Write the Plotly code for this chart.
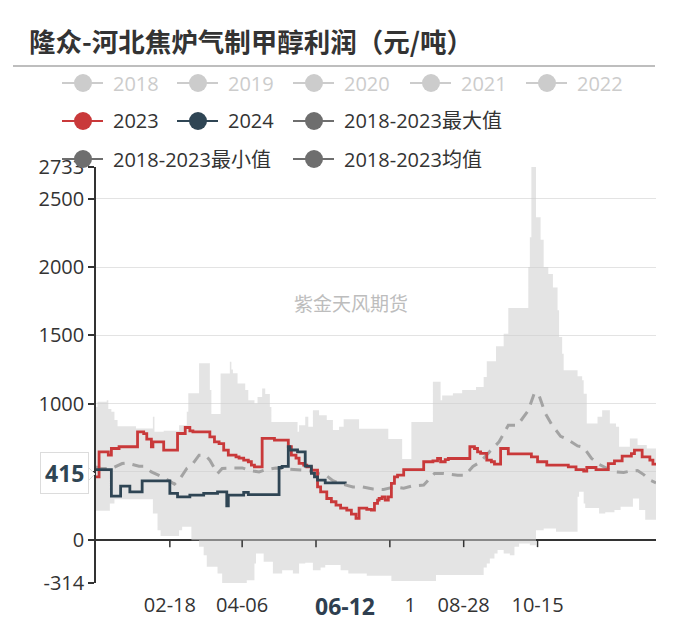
import plotly.graph_objects as go

# ---------------- data ----------------
TICK_DAYS = [48, 95, 143, 191, 239, 287]
TICK_LABELS = ["02-18", "04-06", "05-24", "07-11", "08-28", "10-15"]
Y_TICKS = [-314, 0, 500, 1000, 1500, 2000, 2500, 2733]
Y_TICK_LABELS = ["-314", "0", "500", "1000", "1500", "2000", "2500", "2733"]
POINTER_DAY, POINTER_LABEL = 162, "06-12"
POINTER_VALUE = 415

DAYS_2023 = [0, 2, 8, 10, 15, 27, 31, 33, 36, 37, 44, 53, 58, 61, 63, 74, 77, 80, 83, 86,
             91, 93, 96, 99, 101, 103, 108, 116, 125, 127, 130, 132, 135, 137, 140, 144, 146,
             150, 153, 156, 159, 163, 166, 169, 171, 176, 179, 181, 183, 184, 186, 188, 190,
             192, 194, 196, 200, 213, 219, 222, 224, 227, 229, 243, 246, 248, 250, 254, 257,
             259, 263, 268, 283, 287, 293, 307, 312, 317, 319, 325, 333, 337, 342, 348, 350,
             355, 360, 362, 364]
VALS_2023 = [463, 646, 622, 671, 684, 793, 780, 740, 684, 720, 659, 781, 825, 800, 793, 756,
             720, 707, 659, 623, 610, 601, 586, 574, 549, 537, 745, 733, 684, 623, 600, 562,
             549, 537, 513, 390, 354, 305, 281, 256, 235, 220, 190, 159, 234, 225, 220, 269,
             293, 305, 317, 293, 317, 415, 464, 476, 517, 574, 580, 598, 574, 590, 598, 684,
             671, 646, 635, 586, 574, 556, 671, 632, 610, 574, 549, 537, 517, 505, 532, 517,
             561, 580, 615, 634, 659, 610, 586, 556, 550]

DAYS_2024 = [0, 10, 16, 22, 30, 48, 53, 61, 70, 79, 85, 86, 96, 99, 119, 121, 125, 126, 131,
             136, 140, 142, 144, 149, 162]
VALS_2024 = [517, 322, 395, 354, 434, 342, 317, 329, 342, 354, 252, 329, 350, 334, 532, 540,
             684, 660, 647, 542, 489, 464, 440, 420, 415]

DAYS_MEAN = [0, 3, 10, 17, 20, 28, 31, 36, 43, 48, 51, 54, 59, 63, 67, 71, 74, 79, 82, 89, 95,
             100, 106, 110, 117, 125, 133, 138, 141, 150, 154, 160, 167, 173, 180, 187, 194,
             200, 205, 213, 220, 226, 235, 240, 245, 250, 256, 262, 268, 274, 281, 285, 288,
             292, 296, 302, 306, 313, 317, 322, 327, 333, 338, 343, 347, 352, 356, 360, 364]
VALS_MEAN = [537, 525, 525, 561, 565, 542, 542, 500, 464, 430, 410, 440, 525, 560, 622, 622,
             585, 488, 525, 529, 529, 510, 500, 515, 529, 520, 517, 510, 500, 470, 435, 410,
             390, 390, 375, 371, 390, 380, 395, 403, 488, 488, 476, 476, 540, 574, 650, 720,
             842, 842, 950, 1080, 1060, 929, 850, 760, 740, 690, 680, 600, 555, 520, 500, 495,
             505, 510, 480, 440, 420]

DAYS_MAX = [0, 1, 7, 8, 10, 12, 14, 26, 37, 38, 44, 54, 59, 60, 67, 74, 75, 81, 87, 88, 89, 92,
            97, 99, 103, 105, 108, 110, 113, 114, 131, 132, 136, 138, 141, 145, 150, 154, 158,
            161, 171, 190, 199, 205, 219, 224, 225, 232, 238, 247, 252, 254, 260, 265, 268,
            281, 282, 283, 286, 289, 291, 294, 297, 300, 301, 303, 304, 313, 316, 317, 319,
            326, 329, 334, 338, 340, 347, 352, 358, 364]
VALS_MAX = [976, 1013, 1025, 960, 940, 879, 835, 818, 903, 793, 801, 842, 940, 1075, 1295,
            1099, 923, 1221, 1306, 1250, 1222, 1148, 1100, 1025, 1000, 1049, 1110, 1070, 976,
            866, 793, 842, 903, 830, 952, 915, 879, 806, 830, 885, 815, 740, 595, 866, 1160,
            1025, 1060, 1075, 1100, 1122, 1195, 1310, 1420, 1512, 1700, 2000, 2219, 2733,
            2365, 2200, 2000, 1950, 1850, 1683, 1488, 1366, 1244, 1200, 1171, 1073, 854, 903,
            952, 854, 830, 684, 745, 696, 671, 671]

DAYS_MIN = [0, 9, 12, 37, 40, 42, 54, 56, 62, 67, 70, 72, 79, 82, 98, 103, 104, 109, 115, 121,
            128, 132, 136, 141, 146, 149, 159, 164, 176, 192, 221, 252, 254, 256, 259, 261,
            265, 269, 272, 275, 282, 286, 291, 299, 313, 314, 317, 318, 327, 331, 337, 341,
            349, 353, 357, 364]
VALS_MIN = [215, 269, 300, 195, 73, 30, 73, 98, 0, -49, -110, -195, -244, -314, -293, -171,
            -98, -159, -244, -220, -244, -171, -165, -220, -200, -183, -220, -244, -260, -300,
            -256, -200, -171, -134, -98, -73, -98, -110, -49, -24, -37, 73, 85, 61, 317, 354,
            268, 235, 195, 205, 220, 244, 305, 220, 150, 150]

LEGEND_NAMES = ["2018", "2019", "2020", "2021", "2022",
                "2023", "2024", "2018-2023最大值",
                "2018-2023最小值", "2018-2023均值"]

TITLE = "隆众-河北焦炉气制甲醇利润（元/吨）"
WATERMARK = "紫金天风期货"

# ---------------- styling / geometry ----------------
# the page body has an 8px margin; positions below are given in window pixels.
OFF = 8
W, H = 700 - 2 * OFF, 624 - OFF
L, T = 96 - OFF, 167 - OFF
R = W - (656 - OFF)
B = H - (583 - OFF)
PW, PH = W - L - R, H - T - B
FONT = "Open Sans, Noto Sans CJK SC, sans-serif"
RED, NAVY, GREY, BAND, MEANC = "#c9393a", "#2f4554", "#6e6e6e", "rgba(205,205,205,0.55)", "#a3a3a3"
INACTIVE = "#cccccc"


def px(x):
    """window x (as in the reference) -> paper fraction"""
    return (x - 96) / PW


def py(y):
    """window y (as in the reference) -> paper fraction"""
    return (583 - y) / PH


fig = go.Figure()
fig.add_trace(go.Scatter(x=DAYS_MIN, y=VALS_MIN, mode="lines", line=dict(width=0, shape="hv"),
                         hoverinfo="skip", showlegend=False))
fig.add_trace(go.Scatter(x=DAYS_MAX, y=VALS_MAX, mode="lines", line=dict(width=0, shape="hv"),
                         fill="tonexty", fillcolor=BAND, hoverinfo="skip", showlegend=False))
fig.add_trace(go.Scatter(x=DAYS_MEAN, y=VALS_MEAN, mode="lines",
                         line=dict(color=MEANC, width=3, dash="11px,8px"), showlegend=False))
fig.add_trace(go.Scatter(x=DAYS_2023, y=VALS_2023, mode="lines",
                         line=dict(color=RED, width=2.8, shape="hv"), showlegend=False))
fig.add_trace(go.Scatter(x=DAYS_2024, y=VALS_2024, mode="lines",
                         line=dict(color=NAVY, width=2.8, shape="hv"), showlegend=False))

shapes = []
annotations = []

# separator under title
shapes.append(dict(type="line", xref="paper", yref="paper", x0=px(13), x1=px(655),
                   y0=py(66), y1=py(66), line=dict(color="#a8a8a8", width=1.5)))
# tick marks on the zero line
for d in TICK_DAYS:
    shapes.append(dict(type="line", xref="x", yref="y", x0=d, x1=d, ysizemode="pixel",
                       yanchor=0, y0=0, y1=-7, line=dict(color="#333333", width=1.5)))

# legend (drawn by hand)
legend_pos = [(62, 83), (177, 83), (293, 83), (410, 83), (526, 83),
              (62, 121), (177, 121), (293, 121),
              (62, 159), (293, 159)]
legend_col = [INACTIVE] * 5 + [RED, NAVY, GREY, GREY, GREY]
for i, name in enumerate(LEGEND_NAMES):
    x0, yc = legend_pos[i]
    col = legend_col[i]
    shapes.append(dict(type="line", xref="paper", yref="paper", x0=px(x0), x1=px(x0 + 41),
                       y0=py(yc), y1=py(yc), line=dict(color=col, width=2)))
    r = 9
    cx = x0 + 21
    shapes.append(dict(type="circle", xref="paper", yref="paper", x0=px(cx - r), x1=px(cx + r),
                       y0=py(yc + r), y1=py(yc - r), fillcolor=col, line=dict(color=col, width=0)))
    annotations.append(dict(text=name, xref="paper", yref="paper", x=px(x0 + 49), y=py(yc),
                            xanchor="left", yanchor="middle", showarrow=False,
                            font=dict(family=FONT, size=20,
                                      color=INACTIVE if i < 5 else "#333333")))

# title
annotations.append(dict(text="<b>" + TITLE + "</b>", xref="paper", yref="paper", x=px(27), y=py(40),
                        xanchor="left", yanchor="middle", showarrow=False,
                        font=dict(family="Noto Sans CJK SC", size=26.5, color="#333333")))
# watermark
annotations.append(dict(text=WATERMARK, xref="paper", yref="paper", x=px(351), y=py(302),
                        xanchor="center", yanchor="middle", showarrow=False,
                        font=dict(family="Noto Sans CJK SC", size=19, color="#bdbdbd")))
# y axis pointer label
annotations.append(dict(text="<b>%d</b>" % POINTER_VALUE, xref="paper", yref="y", x=px(89),
                        y=POINTER_VALUE, yshift=10, xanchor="right", yanchor="middle",
                        showarrow=False, bgcolor="white", bordercolor="#dcdcdc", borderwidth=1,
                        borderpad=4, font=dict(family=FONT, size=23, color=NAVY)))
shapes.append(dict(type="path", xref="paper", yref="paper",
                   path="M %f %f L %f %f L %f %f Z" % (px(88), py(467), px(95), py(474), px(88), py(481)),
                   fillcolor="white", line=dict(color="#dcdcdc", width=1)))
# x axis pointer label
annotations.append(dict(text="<b>%s</b>" % POINTER_LABEL, xref="x", yref="paper", x=POINTER_DAY,
                        y=py(606), xanchor="center", yanchor="middle", showarrow=False,
                        bgcolor="white", width=118, height=30,
                        font=dict(family=FONT, size=23, color="#2f3f50")))

fig.update_layout(
    width=W, height=H,
    margin=dict(l=L, r=R, t=T, b=B, autoexpand=False),
    paper_bgcolor="white", plot_bgcolor="white",
    showlegend=False,
    font=dict(family=FONT, size=20, color="#333333"),
    xaxis=dict(range=[0, 364], tickmode="array", tickvals=TICK_DAYS, ticktext=TICK_LABELS,
               showgrid=False, zeroline=False, showline=False, ticks="", automargin=False,
               tickfont=dict(family=FONT, size=20, color="#333333"), ticklabelstandoff=8),
    yaxis=dict(range=[Y_TICKS[0], Y_TICKS[-1]], tickmode="array", tickvals=Y_TICKS,
               ticktext=Y_TICK_LABELS, automargin=False,
               showgrid=True, gridcolor="#e3e3e3", gridwidth=1,
               zeroline=True, zerolinecolor="#333333", zerolinewidth=1.5,
               showline=True, linecolor="#333333", linewidth=1.5,
               ticks="outside", ticklen=6, tickcolor="#333333", tickwidth=1.5,
               tickfont=dict(family=FONT, size=20, color="#333333")),
    shapes=shapes,
    annotations=annotations,
)

fig.write_html("out.html")
